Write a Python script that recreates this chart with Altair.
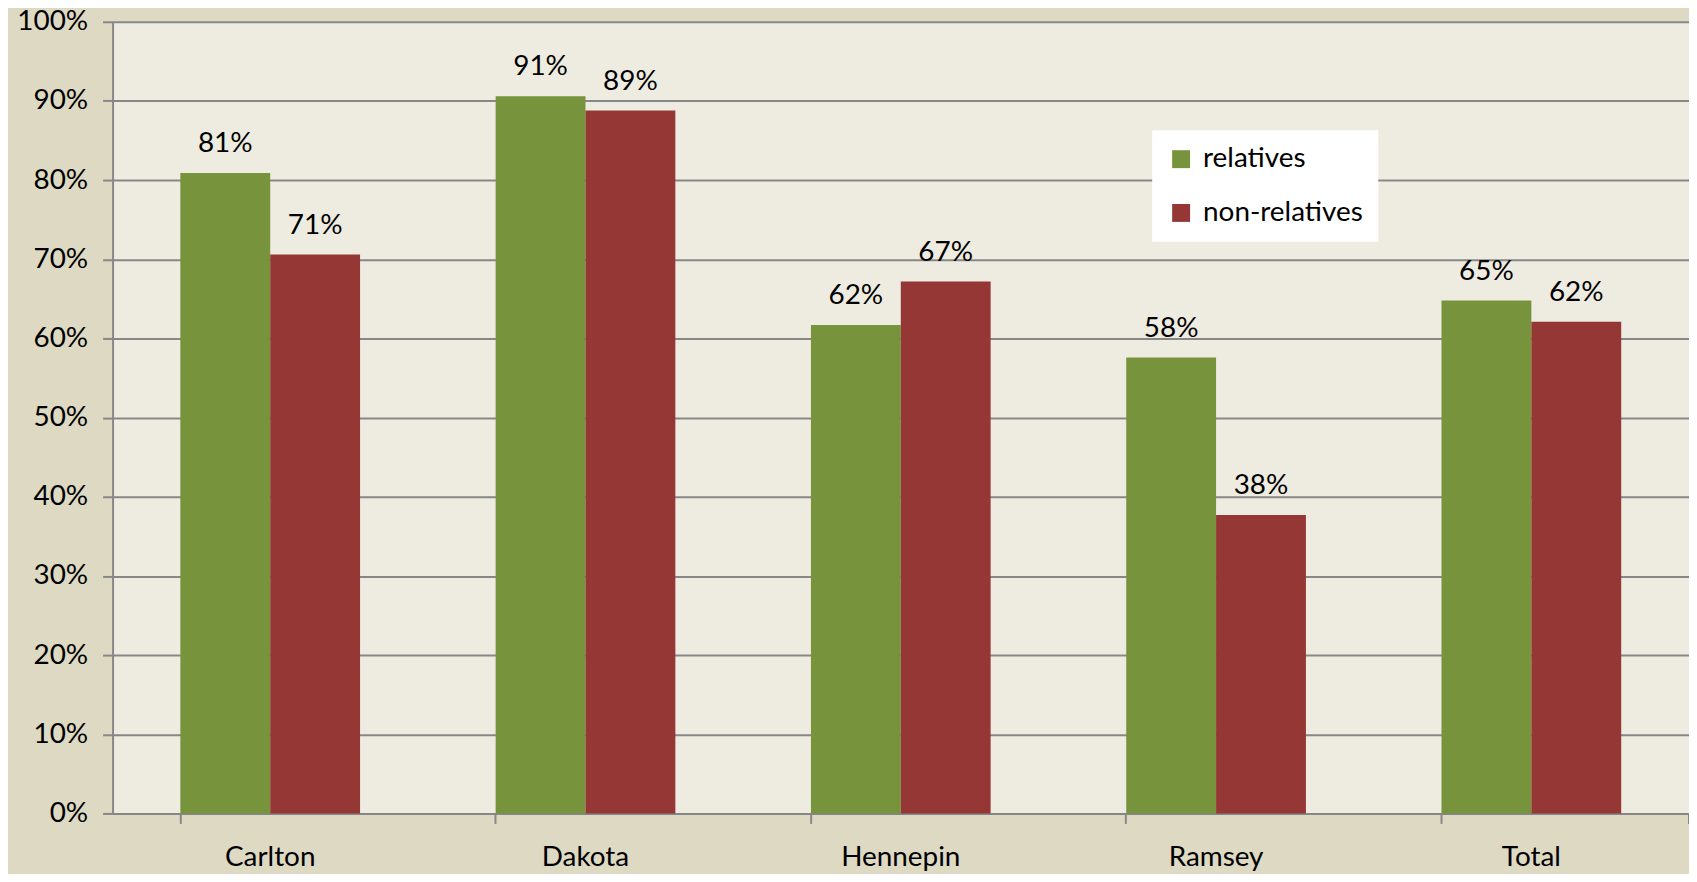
import altair as alt
import pandas as pd

counties = ["Carlton", "Dakota", "Hennepin", "Ramsey", "Total"]
relatives = [80.9, 90.6, 61.7, 57.6, 64.8]
non_relatives = [70.6, 88.8, 67.2, 37.7, 62.1]
series = ["relatives", "non-relatives"]
colors = ["#77933C", "#953735"]
y_ticks = [0, 10, 20, 30, 40, 50, 60, 70, 80, 90, 100]

rows = []
for i, c in enumerate(counties):
    rows.append({"county": c, "series": series[0], "value": relatives[i]})
    rows.append({"county": c, "series": series[1], "value": non_relatives[i]})
df = pd.DataFrame(rows)

FONT = "Lato"
FS = 28
GRID = "#878787"
W, H = 1583, 795

x_enc = alt.X(
    "county:N",
    sort=counties,
    scale=alt.Scale(paddingInner=0.43, paddingOuter=0.215),
    axis=alt.Axis(
        title=None, labelAngle=0, bandPosition=0, tickSize=10, tickColor=GRID,
        tickWidth=2, domainColor=GRID, domainWidth=2, labelPadding=20,
        labelFont=FONT, labelFontSize=FS, labelColor="black", grid=False,
        labelBaseline="top",
    ),
)
y_enc = alt.Y(
    "value:Q",
    scale=alt.Scale(domain=[0, 100], nice=False),
    axis=alt.Axis(
        title=None, values=y_ticks, labelExpr="datum.value + '%'",
        grid=True, gridColor=GRID, gridWidth=2, tickSize=10, tickColor=GRID,
        tickWidth=2, domainColor=GRID, domainWidth=2, labelPadding=15,
        labelFont=FONT, labelFontSize=FS, labelColor="black",
    ),
)
xoff = alt.XOffset("series:N", sort=series)

bars = alt.Chart(df).mark_bar().encode(
    x=x_enc,
    xOffset=xoff,
    y=y_enc,
    color=alt.Color(
        "series:N",
        sort=series,
        scale=alt.Scale(domain=series, range=colors),
        legend=alt.Legend(
            title=None, orient="none", legendX=1044, legendY=109,
            fillColor="white", padding=15, symbolType="square",
            symbolSize=324, symbolStrokeWidth=0, labelFont=FONT,
            labelFontSize=FS, labelColor="black", rowPadding=26,
            labelOffset=8, labelLimit=400,
        ),
    ),
)

labels = alt.Chart(df).transform_calculate(
    label="format(datum.value / 100, '.0%')"
).mark_text(
    font=FONT, fontSize=FS, color="black", baseline="alphabetic", dy=-21
).encode(
    x=alt.X("county:N", sort=counties),
    xOffset=xoff,
    y=alt.Y("value:Q"),
    text="label:N",
)

end_tick = alt.Chart(df).mark_rule(color=GRID, strokeWidth=2).encode(
    x=alt.value(W), y=alt.value(H), y2=alt.value(H + 10)
)

chart = alt.layer(bars, labels, end_tick).properties(
    width=W,
    height=H,
    padding={"left": 105, "top": 12, "right": 0, "bottom": 59},
    autosize=alt.AutoSizeParams(type="none"),
    background="#DDD9C3",
).configure_view(
    fill="#EEECE1", stroke="transparent"
)

chart.save("out.html", embed_options={"renderer": "svg", "actions": False})
